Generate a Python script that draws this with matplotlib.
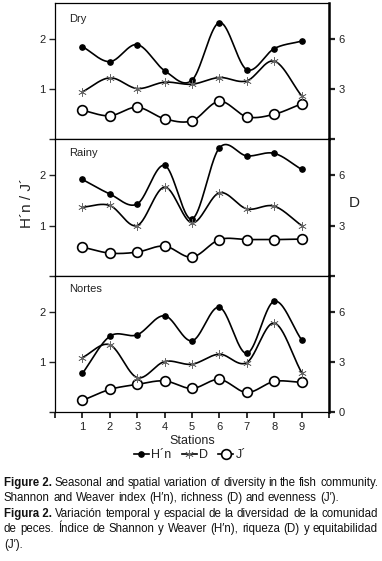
import numpy as np
import matplotlib
matplotlib.use("Agg")
import matplotlib.pyplot as plt
from matplotlib.lines import Line2D

plt.rcParams['font.family'] = ['Liberation Sans', 'DejaVu Sans']

# ---- data ----
stations = [1, 2, 3, 4, 5, 6, 7, 8, 9]
seasons = ["Dry", "Rainy", "Nortes"]

hn_dry = [1.85, 1.55, 1.89, 1.37, 1.18, 2.33, 1.39, 1.81, 1.96]
d_dry = [2.84, 3.68, 3.04, 3.42, 3.30, 3.70, 3.50, 4.68, 2.60]
j_dry = [0.58, 0.47, 0.64, 0.41, 0.37, 0.76, 0.45, 0.50, 0.71]

hn_rainy = [1.92, 1.63, 1.43, 2.20, 1.13, 2.55, 2.39, 2.44, 2.12]
d_rainy = [4.10, 4.20, 3.00, 5.30, 3.16, 4.96, 4.00, 4.16, 3.00]
j_rainy = [0.57, 0.45, 0.47, 0.59, 0.37, 0.72, 0.72, 0.72, 0.73]

hn_nortes = [0.77, 1.51, 1.54, 1.92, 1.42, 2.09, 1.17, 2.21, 1.44]
d_nortes = [3.26, 4.02, 2.06, 3.02, 2.86, 3.46, 2.96, 5.32, 2.36]
j_nortes = [0.23, 0.45, 0.55, 0.62, 0.47, 0.65, 0.39, 0.61, 0.59]

hn_all = [hn_dry, hn_rainy, hn_nortes]
d_all = [d_dry, d_rainy, d_nortes]
j_all = [j_dry, j_rainy, j_nortes]


def smooth(x, y, n=40):
    # Catmull-Rom style curve through the points (only for drawing)
    x = np.asarray(x, float)
    y = np.asarray(y, float)
    m = np.zeros_like(y)
    m[1:-1] = (y[2:] - y[:-2]) / (x[2:] - x[:-2])
    m[0] = (y[1] - y[0]) / (x[1] - x[0])
    m[-1] = (y[-1] - y[-2]) / (x[-1] - x[-2])
    xs_all, ys_all = [], []
    for i in range(len(x) - 1):
        h = x[i + 1] - x[i]
        t = np.linspace(0, 1, n)
        h00 = 2 * t ** 3 - 3 * t ** 2 + 1
        h10 = t ** 3 - 2 * t ** 2 + t
        h01 = -2 * t ** 3 + 3 * t ** 2
        h11 = t ** 3 - t ** 2
        xs_all.append(x[i] + t * h)
        ys_all.append(h00 * y[i] + h10 * h * m[i] + h01 * y[i + 1] + h11 * h * m[i + 1])
    return np.concatenate(xs_all), np.concatenate(ys_all)


fig = plt.figure(figsize=(3.82, 5.61), dpi=100)
L, R = 55 / 382, 329 / 382
top = 1 - 3 / 561
bot = 1 - 412 / 561
ph = (top - bot) / 3

tick_col = "#222222"
for p in range(3):
    y0 = top - (p + 1) * ph
    ax = fig.add_axes([L, y0, R - L, ph])
    ax2 = ax.twinx()
    ax.set_xlim(0, 10)
    ax.set_ylim(0, 2.72)
    ax2.set_ylim(0, 8.16)

    xs, ys = smooth(stations, hn_all[p])
    ax.plot(xs, ys, color="black", lw=1.2, zorder=3)
    ax.plot(stations, hn_all[p], "o", color="black", ms=3.8, zorder=4)

    xs, ys = smooth(stations, j_all[p])
    ax.plot(xs, ys, color="black", lw=1.2, zorder=3)
    ax.plot(stations, j_all[p], "o", mfc="white", mec="black", ms=7, mew=1.2, zorder=4)

    xs, ys = smooth(stations, d_all[p])
    ax2.plot(xs, ys, color="black", lw=1.2, zorder=3)
    ax2.plot(stations, d_all[p], marker=(6, 2, 0), ls="none", color="0.4", ms=6, mew=0.5, zorder=4)

    ax.set_yticks([0, 1, 2])
    ax.set_yticklabels(["", "1", "2"])
    ax2.set_yticks([0, 3, 6])
    ax2.set_yticklabels(["0" if p == 2 else "", "3", "6"])
    ax.tick_params(axis="y", direction="out", length=4, width=1, labelsize=8, colors=tick_col, pad=3)
    ax2.tick_params(axis="y", direction="out", length=4, width=1.6, labelsize=8, colors=tick_col, pad=3)
    ax.spines["left"].set_linewidth(0.9)
    ax2.spines["right"].set_linewidth(1.8)
    for s in ["top", "bottom"]:
        ax.spines[s].set_linewidth(0.9)
        ax2.spines[s].set_visible(False)
    ax2.spines["left"].set_visible(False)

    if p == 2:
        ax.set_xticks(range(0, 11))
        ax.set_xticklabels([""] + [str(s) for s in stations] + [""])
        ax.tick_params(axis="x", direction="out", length=4, width=1.3, labelsize=8, colors=tick_col, pad=3)
        ax.set_xlabel("Stations", fontsize=9, color=tick_col, labelpad=2)
    else:
        ax.set_xticks([])

    ax.text(0.05, 0.92 if p == 0 else 0.94, seasons[p], transform=ax.transAxes,
            fontsize=8, color=tick_col, va="top", ha="left")

fig.text(27 / 382, 1 - 203 / 561, "H´n / J´", rotation=90, ha="center", va="center",
         fontsize=11, color=tick_col)
fig.text(354 / 382, 1 - 203 / 561, "D", ha="center", va="center", fontsize=11, color=tick_col)

handles = [
    Line2D([], [], color="black", lw=1.2, marker="o", ms=3.8),
    Line2D([], [], color="black", lw=1.2, marker=(6, 2, 0), ms=6, mew=0.5, mec="0.4"),
    Line2D([], [], color="black", lw=1.2, marker="o", ms=7, mfc="white", mew=1.2),
]
fig.legend(handles, ["H´n", "D", "J´"], loc="center", bbox_to_anchor=(190 / 382, 1 - 455 / 561),
           ncol=3, frameon=False, fontsize=9, handlelength=1.2, handletextpad=0.2,
           columnspacing=0.8, labelcolor=tick_col)

# ---- caption, justified like the journal page ----
cap_lines = [
    (True, "Figure 2.", "Seasonal and spatial variation of diversity in the fish community."),
    (False, "", "Shannon and Weaver index (H′n), richness (D) and evenness (J′)."),
    (True, "Figura 2.", "Variación temporal y espacial de la diversidad de la comunidad"),
    (True, "", "de peces. Índice de Shannon y Weaver (H′n), riqueza (D) y equitabilidad"),
    (False, "", "(J′)."),
]
cap_y = [483, 498, 514, 529, 545]
x_left, x_right = 4, 378
cap_fs = 8.3
renderer = fig.canvas.get_renderer()
for (justify, bold, rest), yy in zip(cap_lines, cap_y):
    words = []
    if bold:
        words.append((bold, "bold"))
    words += [(w, "normal") for w in rest.split()]
    arts = []
    widths = []
    for w, wt in words:
        t = fig.text(0, 1 - yy / 561, w, fontsize=cap_fs, fontweight=wt, va="center", ha="left",
                     color="#111111")
        arts.append(t)
        widths.append(t.get_window_extent(renderer).width)
    space = fig.text(0, 0, "a a", fontsize=cap_fs).get_window_extent(renderer).width \
        - 2 * fig.text(0, 0, "a", fontsize=cap_fs).get_window_extent(renderer).width
    for t in fig.texts[-2:]:
        t.remove()
    if justify and len(words) > 1:
        gap = (x_right - x_left - sum(widths)) / (len(words) - 1)
    else:
        gap = space
    x = x_left
    for t, w in zip(arts, widths):
        t.set_x(x / 382)
        x += w + gap

fig.savefig("out.png", dpi=100)
